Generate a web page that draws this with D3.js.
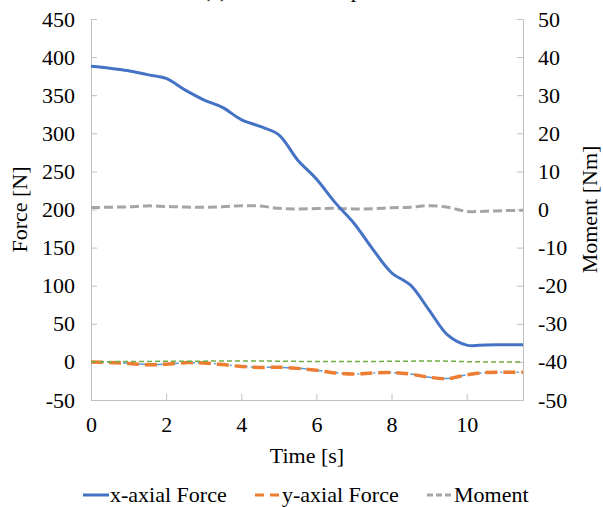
<!DOCTYPE html>
<html>
<head>
<meta charset="utf-8">
<script src="https://cdn.jsdelivr.net/npm/d3@7"></script>
<style>
  body { margin: 0; background: #fff; }
  .axis path, .axis line { stroke: #bfbfbf; }
</style>
</head>
<body>
<svg id="my-svg" width="603" height="507"></svg>
<script>
// time samples [s]
const time = [0, 0.5, 1, 1.5, 2, 2.5, 3, 3.5, 4, 4.5, 5, 5.5, 6, 6.5, 7, 7.5, 8, 8.5, 9, 9.5, 10, 10.5, 11, 11.5];

// x-axial force [N]
const xForce = [388, 385.5, 382, 377, 372, 357, 344, 334, 318, 309, 298, 265, 240, 209, 182, 148, 117, 101, 68, 35, 22, 22.3, 22.5, 22.5];
// y-axial force [N]
const yForce = [0, -0.7, -2, -3.8, -3, -1, -1.5, -3.5, -6, -7.2, -7, -8.5, -11, -14.5, -16, -14.5, -14, -16, -20, -22, -17, -14, -13.5, -13.5];
// thin blue trace under the y-axial force
const yForceRaw = [0, -0.5, -1.8, -3.5, -3, -1.2, -1.3, -3.3, -5.8, -7, -7.2, -8.3, -11, -14.3, -16, -14.7, -14, -15.8, -20, -21.8, -17, -14, -13.5, -13.5];
// thin green trace near zero [N]
const zForce = [0, 0.3, 0.5, 0.6, 0.8, 0.9, 1, 1.2, 1.3, 1.2, 0.9, 0.7, 0.6, 0.5, 0.5, 0.6, 0.8, 1, 1.2, 1, 0.3, 0, -0.2, -0.2];
// moment [Nm]
const moment = [0.5, 0.6, 0.7, 0.95, 0.8, 0.65, 0.6, 0.7, 1.0, 0.9, 0.3, 0.15, 0.25, 0.3, 0.15, 0.2, 0.45, 0.6, 1.0, 0.6, -0.5, -0.45, -0.3, -0.2];

const xTicks = [0, 2, 4, 6, 8, 10];
const leftTicks = [-50, 0, 50, 100, 150, 200, 250, 300, 350, 400, 450];
const rightTicks = [-50, -40, -30, -20, -10, 0, 10, 20, 30, 40, 50];

const FONT = '"Liberation Serif", "Times New Roman", "DejaVu Serif", serif';

const svg = d3.select("#my-svg")
        .style("font-family", FONT),
      margin = {top: 19, right: 80, bottom: 107, left: 91},
      W = 603, H = 507;

const xScale = d3.scaleLinear().domain([0, 11.5]).range([margin.left, W - margin.right]),
      yLeft = d3.scaleLinear().domain([-50, 450]).range([H - margin.bottom, margin.top]),
      yRight = d3.scaleLinear().domain([-50, 50]).range([H - margin.bottom, margin.top]);

// partial title cut off at the top
svg.append("text")
    .attr("x", 203).attr("y", -3)
    .style("font-family", FONT).style("font-size", "22px")
    .text("(a) Measured response");

// axes
const fmt = d => String(d);
const styleAxis = g => {
    g.attr("font-family", null).attr("font-size", null);
    g.selectAll("text").style("font-family", FONT).style("font-size", "22px").attr("fill", "#000");
};

svg.append("g").attr("class", "axis")
    .attr("transform", `translate(0, ${yLeft(-50)})`)
    .call(d3.axisBottom(xScale).tickValues(xTicks).tickFormat(fmt).tickSize(-6).tickSizeOuter(0).tickPadding(16))
    .call(styleAxis);

svg.append("g").attr("class", "axis")
    .attr("transform", `translate(${margin.left}, 0)`)
    .call(d3.axisLeft(yLeft).tickValues(leftTicks).tickFormat(fmt).tickSize(-6).tickSizeOuter(0).tickPadding(16))
    .call(styleAxis);

svg.append("g").attr("class", "axis")
    .attr("transform", `translate(${W - margin.right}, 0)`)
    .call(d3.axisRight(yRight).tickValues(rightTicks).tickFormat(fmt).tickSize(-6).tickSizeOuter(0).tickPadding(15))
    .call(styleAxis);

// axis titles
svg.append("text")
    .attr("transform", `translate(27, ${(yLeft(-50) + yLeft(450)) / 2}) rotate(-90)`)
    .attr("text-anchor", "middle")
    .style("font-family", FONT).style("font-size", "22px")
    .text("Force [N]");

svg.append("text")
    .attr("transform", `translate(597, ${(yLeft(-50) + yLeft(450)) / 2}) rotate(-90)`)
    .attr("text-anchor", "middle")
    .style("font-family", FONT).style("font-size", "22px")
    .text("Moment [Nm]");

svg.append("text")
    .attr("x", (xScale(0) + xScale(11.5)) / 2).attr("y", 463)
    .attr("text-anchor", "middle")
    .style("font-family", FONT).style("font-size", "22px")
    .text("Time [s]");

// lines
const lineL = vals => d3.line()
    .x((d, i) => xScale(time[i]))
    .y(d => yLeft(d))
    .curve(d3.curveCatmullRom)(vals);
const lineR = vals => d3.line()
    .x((d, i) => xScale(time[i]))
    .y(d => yRight(d))
    .curve(d3.curveCatmullRom)(vals);

svg.append("path").attr("d", lineL(yForceRaw))
    .attr("fill", "none").attr("stroke", "#5b9bd5").attr("stroke-width", 1.5)
    .attr("stroke-dasharray", "8,3,2,3");

svg.append("path").attr("d", lineL(yForce))
    .attr("fill", "none").attr("stroke", "#ed7d31").attr("stroke-width", 3.5)
    .attr("stroke-dasharray", "12,6");

svg.append("path").attr("d", lineL(zForce))
    .attr("fill", "none").attr("stroke", "#70ad47").attr("stroke-width", 1.5)
    .attr("stroke-dasharray", "5,3");

svg.append("path").attr("d", lineR(moment))
    .attr("fill", "none").attr("stroke", "#a5a5a5").attr("stroke-width", 3)
    .attr("stroke-dasharray", "9,4");

svg.append("path").attr("d", lineL(xForce))
    .attr("fill", "none").attr("stroke", "#4472c4").attr("stroke-width", 3);

// legend
const legend = [
    {name: "x-axial Force", color: "#4472c4", dash: null, x: 83},
    {name: "y-axial Force", color: "#ed7d31", dash: "9,6", x: 255},
    {name: "Moment", color: "#a5a5a5", dash: "6,3", x: 427}
];
const lg = svg.selectAll("g.legend").data(legend).join("g")
    .attr("class", "legend")
    .attr("transform", d => `translate(${d.x}, 495)`);
lg.append("line")
    .attr("x1", 0).attr("x2", 26).attr("y1", 0).attr("y2", 0)
    .attr("stroke", d => d.color).attr("stroke-width", 3)
    .attr("stroke-dasharray", d => d.dash);
lg.append("text")
    .attr("x", 27).attr("y", 7)
    .style("font-family", FONT).style("font-size", "22px")
    .text(d => d.name);
</script>
</body>
</html>
